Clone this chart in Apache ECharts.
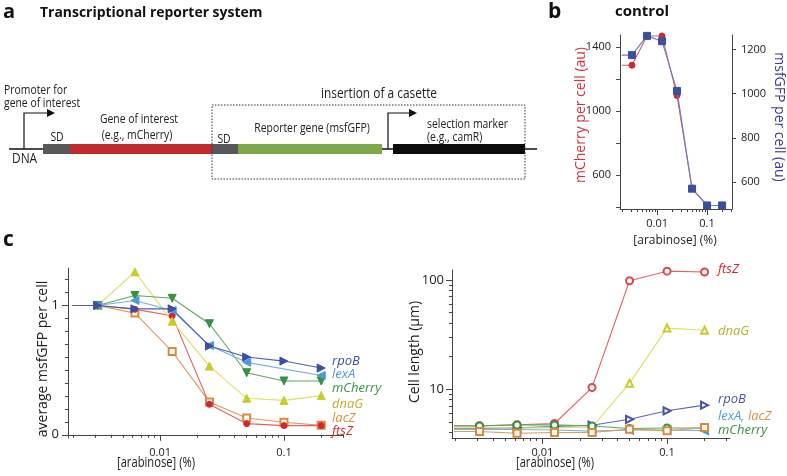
<!DOCTYPE html>
<html><head><meta charset="utf-8">
<script src="https://cdn.jsdelivr.net/npm/echarts@6/dist/echarts.min.js"></script>
<style>html,body{margin:0;padding:0;background:#fff}#c{width:787px;height:476px}</style>
</head><body><div id="c"></div>
<script>
// ---------- data ----------
// arabinose concentrations (%); first entry is the 0% sample, drawn at the left edge
const zeroPos = 0.00195;
const conc = [0.003125, 0.00625, 0.0125, 0.025, 0.05, 0.1, 0.2];
const xs = [zeroPos].concat(conc);

// panel b: control
const ctrlMCherry = [1286, 1286, 1469, 1469, 1096, 514, 408, 408];
const ctrlMsfGFP  = [1174, 1174, 1261, 1237, 1012, 570, 494, 494];

// panel c (left): normalised average msfGFP per cell
const gfp_rpoB    = [1, 1, 0.974, 0.974, 0.686, 0.601, 0.570, 0.516];
const gfp_lexA    = [1, 1, 1.039, 0.961, 0.691, 0.560, null, 0.459];
const gfp_mCherry = [1, 1, 1.077, 1.056, 0.859, 0.480, 0.416, 0.416];
const gfp_dnaG    = [1, 1, 1.260, 0.879, 0.531, 0.282, 0.266, 0.303];
const gfp_lacZ    = [1, 1, 0.941, 0.645, 0.253, 0.130, 0.097, 0.073];
const gfp_ftsZ    = [1, 1, 0.970, 0.920, 0.236, 0.086, 0.071, 0.071];

// panel c (right): cell length (µm)
const len_rpoB    = [4.34, 4.34, 4.40, 4.52, 4.65, 5.27, 6.30, 7.10];
const len_lexA    = [4.25, 4.25, 4.25, 4.20, 4.10, 4.20, 4.20, 4.15];
const len_mCherry = [4.58, 4.58, 4.68, 4.68, 4.58, 4.34, 4.39, 4.39];
const len_dnaG    = [4.40, 4.40, 4.40, 4.40, 4.46, 11.3, 36.1, 34.5];
const len_lacZ    = [4.07, 4.07, 3.93, 3.99, 3.99, 4.28, 4.13, 4.43];
const len_ftsZ    = [4.60, 4.60, 4.70, 4.82, 10.3, 98.0, 120, 118];

// tick labels
const xMajor = [0.01, 0.1];
const xMinor = [0.002,0.003,0.004,0.005,0.006,0.007,0.008,0.009,0.02,0.03,0.04,0.05,0.06,0.07,0.08,0.09,0.2,0.3];
const bLeftLabels = [600, 1000, 1400];
const bLeftTicks = [400, 600, 800, 1000, 1200, 1400];
const bRightTicks = [600, 800, 1000, 1200];
const cLeftMajor = [0, 1];
const cLeftMinor = [0.1,0.2,0.3,0.4,0.5,0.6,0.7,0.8,0.9,1.1,1.2];
const cRightMajor = [10, 100];
const cRightMinor = [4,5,6,7,8,9,20,30,40,50,60,70,80,90];

// ---------- chart ----------
const FONT = '"Open Sans", "DejaVu Sans", sans-serif';
const AX = '#444';
const chart = echarts.init(document.getElementById('c'), null, {renderer: 'canvas'});

function mk(vals) {
  return vals.map((v, i) => i === 0 ? {value: [xs[i], v], symbol: 'none'} : [xs[i], v]);
}
const plain = v => String(+(+v).toPrecision(4));

function xPair(grid, min, max) {
  return [
    {type: 'log', logBase: 10, gridIndex: grid, min: min, max: max, position: 'bottom',
     axisLine: {show: true, lineStyle: {color: AX, width: 1}},
     axisTick: {show: true, inside: false, length: 3, customValues: xMinor, lineStyle: {color: AX}},
     axisLabel: {show: false}, splitLine: {show: false}},
    {type: 'log', logBase: 10, gridIndex: grid, min: min, max: max, position: 'bottom',
     axisLine: {show: false},
     axisTick: {show: true, inside: false, length: 6, customValues: xMajor, lineStyle: {color: AX}},
     axisLabel: {show: true, customValues: xMajor, margin: 9, color: '#222', fontSize: 11, fontFamily: FONT,
                 formatter: plain},
     splitLine: {show: false}}
  ];
}

const xAxes = [].concat(xPair(0, 0.0018, 0.316), xPair(1, 0.0018, 0.30), xPair(2, 0.00188, 0.32));

const yAxes = [
  // b left
  {type: 'value', gridIndex: 0, position: 'left', min: 386, max: 1475,
   axisLine: {show: true, lineStyle: {color: AX}},
   axisTick: {show: true, length: 4, customValues: bLeftTicks, lineStyle: {color: AX}},
   axisLabel: {customValues: bLeftLabels, margin: 9, color: '#222', fontSize: 11, fontFamily: FONT, formatter: plain},
   splitLine: {show: false}},
  // b right
  {type: 'value', gridIndex: 0, position: 'right', min: 478, max: 1265,
   axisLine: {show: true, lineStyle: {color: AX}},
   axisTick: {show: true, length: 4, customValues: bRightTicks, lineStyle: {color: AX}},
   axisLabel: {customValues: bRightTicks, margin: 9, color: '#222', fontSize: 11, fontFamily: FONT, formatter: plain},
   splitLine: {show: false}},
  // c left (minor)
  {type: 'value', gridIndex: 1, position: 'left', min: -0.025, max: 1.29,
   axisLine: {show: true, lineStyle: {color: AX}},
   axisTick: {show: true, length: 3, customValues: cLeftMinor, lineStyle: {color: AX}},
   axisLabel: {show: false}, splitLine: {show: false}},
  // c left (major)
  {type: 'value', gridIndex: 1, position: 'left', min: -0.025, max: 1.29,
   axisLine: {show: false},
   axisTick: {show: true, length: 6, customValues: cLeftMajor, lineStyle: {color: AX}},
   axisLabel: {customValues: cLeftMajor, margin: 9, color: '#222', fontSize: 13, fontFamily: FONT, formatter: plain},
   splitLine: {show: false}},
  // c right (minor)
  {type: 'log', logBase: 10, gridIndex: 2, position: 'left', min: 3.55, max: 123,
   axisLine: {show: true, lineStyle: {color: AX}},
   axisTick: {show: true, length: 3, customValues: cRightMinor, lineStyle: {color: AX}},
   axisLabel: {show: false}, splitLine: {show: false}},
  // c right (major)
  {type: 'log', logBase: 10, gridIndex: 2, position: 'left', min: 3.55, max: 123,
   axisLine: {show: false},
   axisTick: {show: true, length: 6, customValues: cRightMajor, lineStyle: {color: AX}},
   axisLabel: {customValues: cRightMajor, margin: 8, color: '#222', fontSize: 13, fontFamily: FONT, formatter: plain},
   splitLine: {show: false}}
];

function ser(name, data, xi, yi, opt) {
  return Object.assign({
    name: name, type: 'line', xAxisIndex: xi, yAxisIndex: yi, data: mk(data),
    symbolSize: 7, showSymbol: true, animation: false, connectNulls: true,
    lineStyle: {width: 1.1, color: opt.line}, itemStyle: {color: opt.color, borderColor: opt.color, borderWidth: 1}
  }, opt.extra || {});
}

const C = {
  rpoB: '#3b4fa6', lexA: '#4d9ad6', mCherry: '#3a9143', dnaG: '#c9cc2a', lacZ: '#d98a3a', ftsZ: '#d6262c'
};

const series = [
  // panel b
  ser('mCherry', ctrlMCherry, 0, 0, {color: '#d2262d', line: '#dd5a5f', extra: {symbol: 'circle', symbolSize: 6, z: 2}}),
  ser('msfGFP', ctrlMsfGFP, 0, 1, {color: '#3b4f9e', line: '#6d7cc2', extra: {symbol: 'rect', symbolSize: 7, z: 3}}),
  // panel c left
  ser('lacZ', gfp_lacZ, 2, 2, {color: C.lacZ, line: '#dc9c5e', extra: {symbol: 'emptyRect', symbolSize: 7}}),
  ser('ftsZ', gfp_ftsZ, 2, 2, {color: C.ftsZ, line: '#e46365', extra: {symbol: 'circle', symbolSize: 6}}),
  ser('dnaG', gfp_dnaG, 2, 2, {color: C.dnaG, line: '#dfe066', extra: {symbol: 'triangle', symbolSize: 8}}),
  ser('mCherry', gfp_mCherry, 2, 2, {color: C.mCherry, line: '#5aa85e', extra: {symbol: 'triangle', symbolRotate: 180, symbolSize: 8}}),
  ser('lexA', gfp_lexA, 2, 2, {color: C.lexA, line: '#73b0e2', extra: {symbol: 'triangle', symbolRotate: 90, symbolSize: 8}}),
  ser('rpoB', gfp_rpoB, 2, 2, {color: C.rpoB, line: '#4c5fb0', extra: {symbol: 'triangle', symbolRotate: -90, symbolSize: 8}}),
  // panel c right
  ser('lexA', len_lexA, 4, 4, {color: C.lexA, line: '#7ab4e4', extra: {symbol: 'emptyTriangle', symbolRotate: 90, symbolSize: 7}}),
  ser('rpoB', len_rpoB, 4, 4, {color: '#4a52a8', line: '#5d66b6', extra: {symbol: 'emptyTriangle', symbolRotate: -90, symbolSize: 7}}),
  ser('dnaG', len_dnaG, 4, 4, {color: '#c9cc2a', line: '#dfe066', extra: {symbol: 'emptyTriangle', symbolSize: 7}}),
  ser('ftsZ', len_ftsZ, 4, 4, {color: '#e0474b', line: '#e46365', extra: {symbol: 'emptyCircle', symbolSize: 7}}),
  ser('mCherry', len_mCherry, 4, 4, {color: C.mCherry, line: '#5aa85e', extra: {symbol: 'emptyCircle', symbolSize: 7}}),
  ser('lacZ', len_lacZ, 4, 4, {color: C.lacZ, line: '#d99a5a', extra: {symbol: 'emptyRect', symbolSize: 7}})
];

function txt(x, y, text, o) {
  o = o || {};
  return {type: 'text', x: x, y: y, rotation: o.rot || 0, scaleX: o.sx || 1, z: 100,
    style: {text: text, fill: o.color || '#222', font: (o.font || '12px ' + FONT),
            align: o.align || 'left', verticalAlign: o.va || 'middle'}};
}
const it = '13px ' + FONT;
const itl = 'italic 13px ' + FONT;
const SX = 0.8;

const graphics = [
  // panel a
  txt(3, 12, 'a', {font: 'bold 20px ' + FONT, color: '#111'}),
  txt(40, 13, 'Transcriptional reporter system', {font: 'bold 15px ' + FONT, color: '#111', sx: 0.93}),
  {type: 'line', shape: {x1: 9, y1: 149, x2: 537, y2: 149}, style: {stroke: '#111', lineWidth: 1.3}},
  {type: 'rect', shape: {x: 43, y: 144, width: 27, height: 10}, style: {fill: '#58585a'}},
  {type: 'rect', shape: {x: 70, y: 144, width: 142, height: 10}, style: {fill: '#bf2a2e'}},
  {type: 'rect', shape: {x: 212, y: 144, width: 26, height: 10}, style: {fill: '#58585a'}},
  {type: 'rect', shape: {x: 238, y: 144, width: 144, height: 10}, style: {fill: '#7aa84a'}},
  {type: 'rect', shape: {x: 393, y: 144, width: 132, height: 10}, style: {fill: '#0c0c0c'}},
  {type: 'rect', shape: {x: 212, y: 105, width: 313, height: 74}, style: {fill: 'none', stroke: '#333', lineWidth: 1, lineDash: [1.5, 1.5]}},
  {type: 'polyline', shape: {points: [[24, 149], [24, 113], [48, 113]]}, style: {stroke: '#111', lineWidth: 1.2, fill: 'none'}},
  {type: 'polygon', shape: {points: [[47, 109], [55, 113], [47, 117]]}, style: {fill: '#111'}},
  {type: 'polyline', shape: {points: [[388, 149], [388, 113], [410, 113]]}, style: {stroke: '#111', lineWidth: 1.2, fill: 'none'}},
  {type: 'polygon', shape: {points: [[409, 109], [417, 113], [409, 117]]}, style: {fill: '#111'}},
  txt(4, 90, 'Promoter for', {font: it, sx: SX}),
  txt(4, 103, 'gene of interest', {font: it, sx: SX}),
  txt(12, 159, 'DNA', {font: '14px ' + FONT, sx: 0.85}),
  txt(57, 137, 'SD', {font: it, align: 'center', sx: SX}),
  txt(139, 119, 'Gene of interest', {font: it, align: 'center', sx: SX}),
  txt(137, 135, '(e.g., mCherry)', {font: it, align: 'center', sx: SX}),
  txt(224, 139, 'SD', {font: it, align: 'center', sx: SX}),
  txt(312, 128, 'Reporter gene (msfGFP)', {font: it, align: 'center', sx: SX}),
  txt(379, 94, 'insertion of a casette', {font: '14px ' + FONT, align: 'center', sx: 0.85}),
  txt(427, 124, 'selection marker', {font: it, sx: SX}),
  txt(427, 137, '(e.g., camR)', {font: it, sx: SX}),
  // panel b
  txt(548, 12, 'b', {font: 'bold 21px ' + FONT, color: '#111'}),
  txt(642, 12, 'control', {font: 'bold 15px ' + FONT, color: '#111', align: 'center'}),
  txt(581, 115, 'mCherry per cell (au)', {font: '14px ' + FONT, color: '#d3343b', align: 'center', rot: Math.PI / 2}),
  txt(779, 117, 'msfGFP per cell (au)', {font: '14px ' + FONT, color: '#3b3a96', align: 'center', rot: -Math.PI / 2}),
  txt(675, 240, '[arabinose] (%)', {font: '13px ' + FONT, align: 'center', sx: 0.92}),
  // panel c
  txt(3, 240, 'c', {font: 'bold 21px ' + FONT, color: '#111'}),
  txt(43, 359, 'average msfGFP per cell', {font: '14px ' + FONT, align: 'center', rot: Math.PI / 2}),
  txt(156, 463, '[arabinose] (%)', {font: '14px ' + FONT, align: 'center', sx: 0.8}),
  txt(415, 352, 'Cell length (\u00b5m)', {font: '14px ' + FONT, align: 'center', rot: Math.PI / 2}),
  txt(555, 463, '[arabinose] (%)', {font: '14px ' + FONT, align: 'center', sx: 0.8}),
  txt(332, 361, 'rpoB', {font: itl, color: C.rpoB}),
  txt(332, 374, 'lexA', {font: itl, color: C.lexA}),
  txt(332, 388, 'mCherry', {font: itl, color: C.mCherry}),
  txt(332, 404, 'dnaG', {font: itl, color: '#b9b526'}),
  txt(332, 418, 'lacZ', {font: itl, color: '#e0903e'}),
  txt(332, 431, 'ftsZ', {font: itl, color: C.ftsZ}),
  txt(718, 269, 'ftsZ', {font: itl, color: C.ftsZ}),
  txt(718, 331, 'dnaG', {font: itl, color: '#b9b526'}),
  txt(718, 399, 'rpoB', {font: itl, color: '#4a52a8'}),
  {type: 'text', x: 718, y: 416, z: 100, style: {text: '{a|lexA,} {b|lacZ}', font: itl, verticalAlign: 'middle',
    rich: {a: {fill: C.lexA, font: itl}, b: {fill: '#e0903e', font: itl}}}},
  txt(718, 430, 'mCherry', {font: itl, color: C.mCherry})
];

const option = {
  backgroundColor: '#fff',
  animation: false,
  textStyle: {fontFamily: FONT},
  grid: [
    {left: 620, top: 35, width: 112, height: 174, containLabel: false, outerBoundsMode: 'none'},
    {left: 68, top: 268, width: 275, height: 170, containLabel: false, outerBoundsMode: 'none'},
    {left: 452, top: 270, width: 278, height: 168, containLabel: false, outerBoundsMode: 'none'}
  ],
  xAxis: xAxes,
  yAxis: yAxes,
  series: series,
  graphic: {elements: graphics}
};
chart.setOption(option);
</script>
</body></html>
